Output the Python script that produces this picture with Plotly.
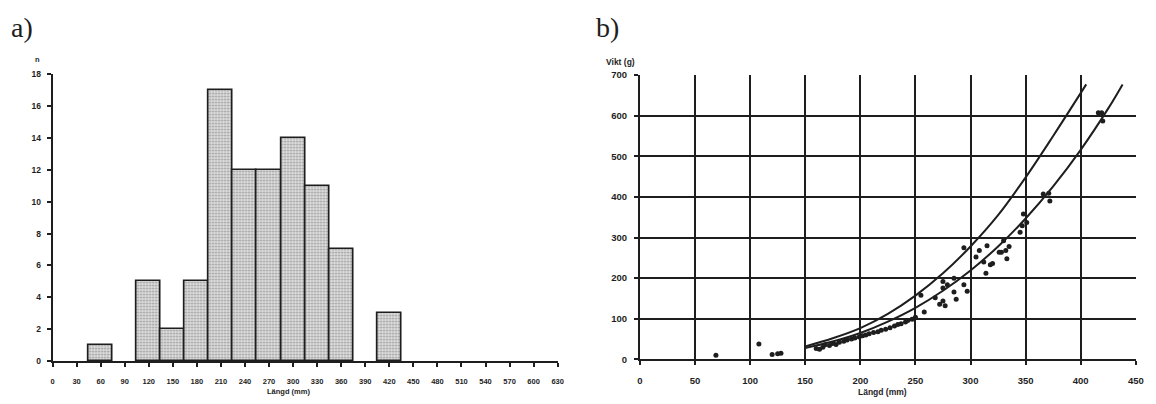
import plotly.graph_objects as go

W, H = 1156, 404

# ---------------- data: a) length histogram ----------------
bin_centers = [60, 120, 150, 180, 210, 240, 270, 300, 330, 360, 420]
counts = [1, 5, 2, 5, 17, 12, 12, 14, 11, 7, 3]
hist_xticks = list(range(0, 631, 30))
hist_yticks = list(range(0, 19, 2))

# ---------------- data: b) length-weight ----------------
len_mm = [69, 108, 120, 125, 128,
          160, 163, 166, 168, 172, 175, 178, 181, 185, 188, 192, 195, 199, 202,
          205, 208, 212, 216, 219, 223, 227, 231, 234, 237, 241, 243, 247, 250,
          255, 258, 268, 272, 275, 277, 275, 275, 279, 285, 287, 285, 294, 297,
          294, 305, 308, 312, 315, 318, 314, 320, 326, 328, 332, 335, 330, 333,
          345, 347, 351, 348, 366, 371, 372, 416, 419, 420]
weight_g = [10, 38, 12, 14, 15,
            27, 25, 30, 36, 34, 39, 37, 42, 45, 48, 50, 53, 55, 58,
            60, 63, 66, 68, 72, 74, 78, 82, 86, 88, 92, 96, 99, 104,
            158, 117, 152, 136, 144, 132, 176, 192, 184, 166, 148, 200, 184, 168,
            275, 252, 268, 240, 280, 233, 212, 236, 264, 264, 268, 278, 292, 248,
            313, 329, 337, 358, 407, 409, 390, 607, 607, 587]

curve_upper_x = [150, 175, 200, 225, 250, 275, 300, 325, 350, 375, 405]
curve_upper_y = [32, 52, 77, 112, 157, 212, 278, 355, 448, 550, 677]
curve_lower_x = [150, 175, 200, 225, 250, 275, 300, 325, 350, 375, 400, 425, 438]
curve_lower_y = [28, 44, 65, 93, 127, 169, 219, 278, 347, 426, 516, 618, 677]

scat_xticks = list(range(0, 451, 50))
scat_grid_x = list(range(0, 401, 50))
scat_yticks = list(range(0, 701, 100))

INK = "#1e1e1e"
SANS = "Liberation Sans, Arial, sans-serif"
hx_font = dict(family=SANS, size=7.5, color=INK, weight="bold")
hy_font = dict(family=SANS, size=8.5, color=INK, weight="bold")
s_font = dict(family=SANS, size=9.5, color=INK, weight="bold")

fig = go.Figure()

fig.add_trace(go.Bar(
    x=bin_centers, y=counts, width=30,
    marker=dict(color="#cccccc",
                line=dict(color=INK, width=1.7),
                pattern=dict(shape=".", fgcolor="#4a4a4a", bgcolor="#dedede",
                             size=3, solidity=0.3)),
    xaxis="x", yaxis="y", showlegend=False))

fig.add_trace(go.Scatter(x=curve_upper_x, y=curve_upper_y, mode="lines",
                         line=dict(color=INK, width=2, shape="spline"),
                         xaxis="x2", yaxis="y2", showlegend=False))
fig.add_trace(go.Scatter(x=curve_lower_x, y=curve_lower_y, mode="lines",
                         line=dict(color=INK, width=2, shape="spline"),
                         xaxis="x2", yaxis="y2", showlegend=False))
fig.add_trace(go.Scatter(x=len_mm, y=weight_g, mode="markers",
                         marker=dict(color=INK, size=5),
                         xaxis="x2", yaxis="y2", showlegend=False))
# empty trace to anchor the grid-only overlay axis
fig.add_trace(go.Scatter(x=[], y=[], xaxis="x3", yaxis="y2", showlegend=False))

fig.update_layout(
    width=W, height=H,
    margin=dict(l=0, r=0, t=0, b=0),
    paper_bgcolor="white", plot_bgcolor="rgba(0,0,0,0)",
    bargap=0,
    xaxis=dict(domain=[50 / W, 560 / W], range=[0, 630], anchor="y",
               tickvals=hist_xticks, ticktext=[str(v) for v in hist_xticks],
               showgrid=False, zeroline=False, showline=True, linecolor=INK, linewidth=1.7,
               ticks="outside", ticklen=4, tickwidth=1.7, tickcolor=INK,
               tickfont=hx_font, ticklabelstandoff=8),
    yaxis=dict(domain=[39 / H, 334 / H], range=[0, 18], anchor="x",
               tickvals=hist_yticks, showgrid=False, zeroline=False,
               showline=True, linecolor=INK, linewidth=1.7,
               ticks="outside", ticklen=4, tickwidth=1.7, tickcolor=INK,
               tickfont=hy_font, ticklabelstandoff=4),
    xaxis2=dict(domain=[643 / W, 1143.7 / W], range=[0, 450], anchor="y2",
                tickvals=scat_xticks, showgrid=False, zeroline=False,
                showline=True, linecolor=INK, linewidth=1.7,
                ticks="outside", ticklen=4, tickwidth=1.7, tickcolor=INK,
                tickfont=s_font, ticklabelstandoff=7),
    xaxis3=dict(domain=[643 / W, 1143.7 / W], range=[0, 450], anchor="y2",
                overlaying="x2", tickvals=scat_grid_x, showgrid=True,
                gridcolor=INK, gridwidth=1.7, showticklabels=False, ticks="",
                zeroline=False, showline=False),
    yaxis2=dict(domain=[40.7 / H, 333 / H], range=[0, 700], anchor="x2",
                tickvals=scat_yticks, showgrid=True, gridcolor=INK, gridwidth=1.7,
                zeroline=False, showline=True, linecolor=INK, linewidth=1.7,
                ticks="outside", ticklen=4, tickwidth=1.7, tickcolor=INK,
                tickfont=s_font, ticklabelstandoff=5),
)

serif = dict(family="Liberation Serif, Times New Roman, serif", size=28, color=INK)
small = dict(family=SANS, size=7.5, color=INK, weight="bold")
small2 = dict(family=SANS, size=8.5, color=INK, weight="bold")
ann = [
    dict(x=6 / W, y=1 - 22 / H, text="a)", font=serif, xanchor="left", yanchor="middle"),
    dict(x=597 / W, y=1 - 22 / H, text="b)", font=serif, xanchor="left", yanchor="middle"),
    dict(x=35 / W, y=1 - 55 / H, text="n", font=small, xanchor="center", yanchor="middle"),
    dict(x=288 / W, y=1 - 396 / H, text="Längd (mm)", font=small, xanchor="center", yanchor="middle"),
    dict(x=607 / W, y=1 - 58 / H, text="Vikt (g)", font=small2, xanchor="left", yanchor="middle"),
    dict(x=888 / W, y=1 - 397 / H, text="Längd (mm)", font=small2, xanchor="center", yanchor="middle"),
]
for a in ann:
    a.update(xref="paper", yref="paper", showarrow=False)
fig.update_layout(annotations=ann)

fig.write_html("out.html")
